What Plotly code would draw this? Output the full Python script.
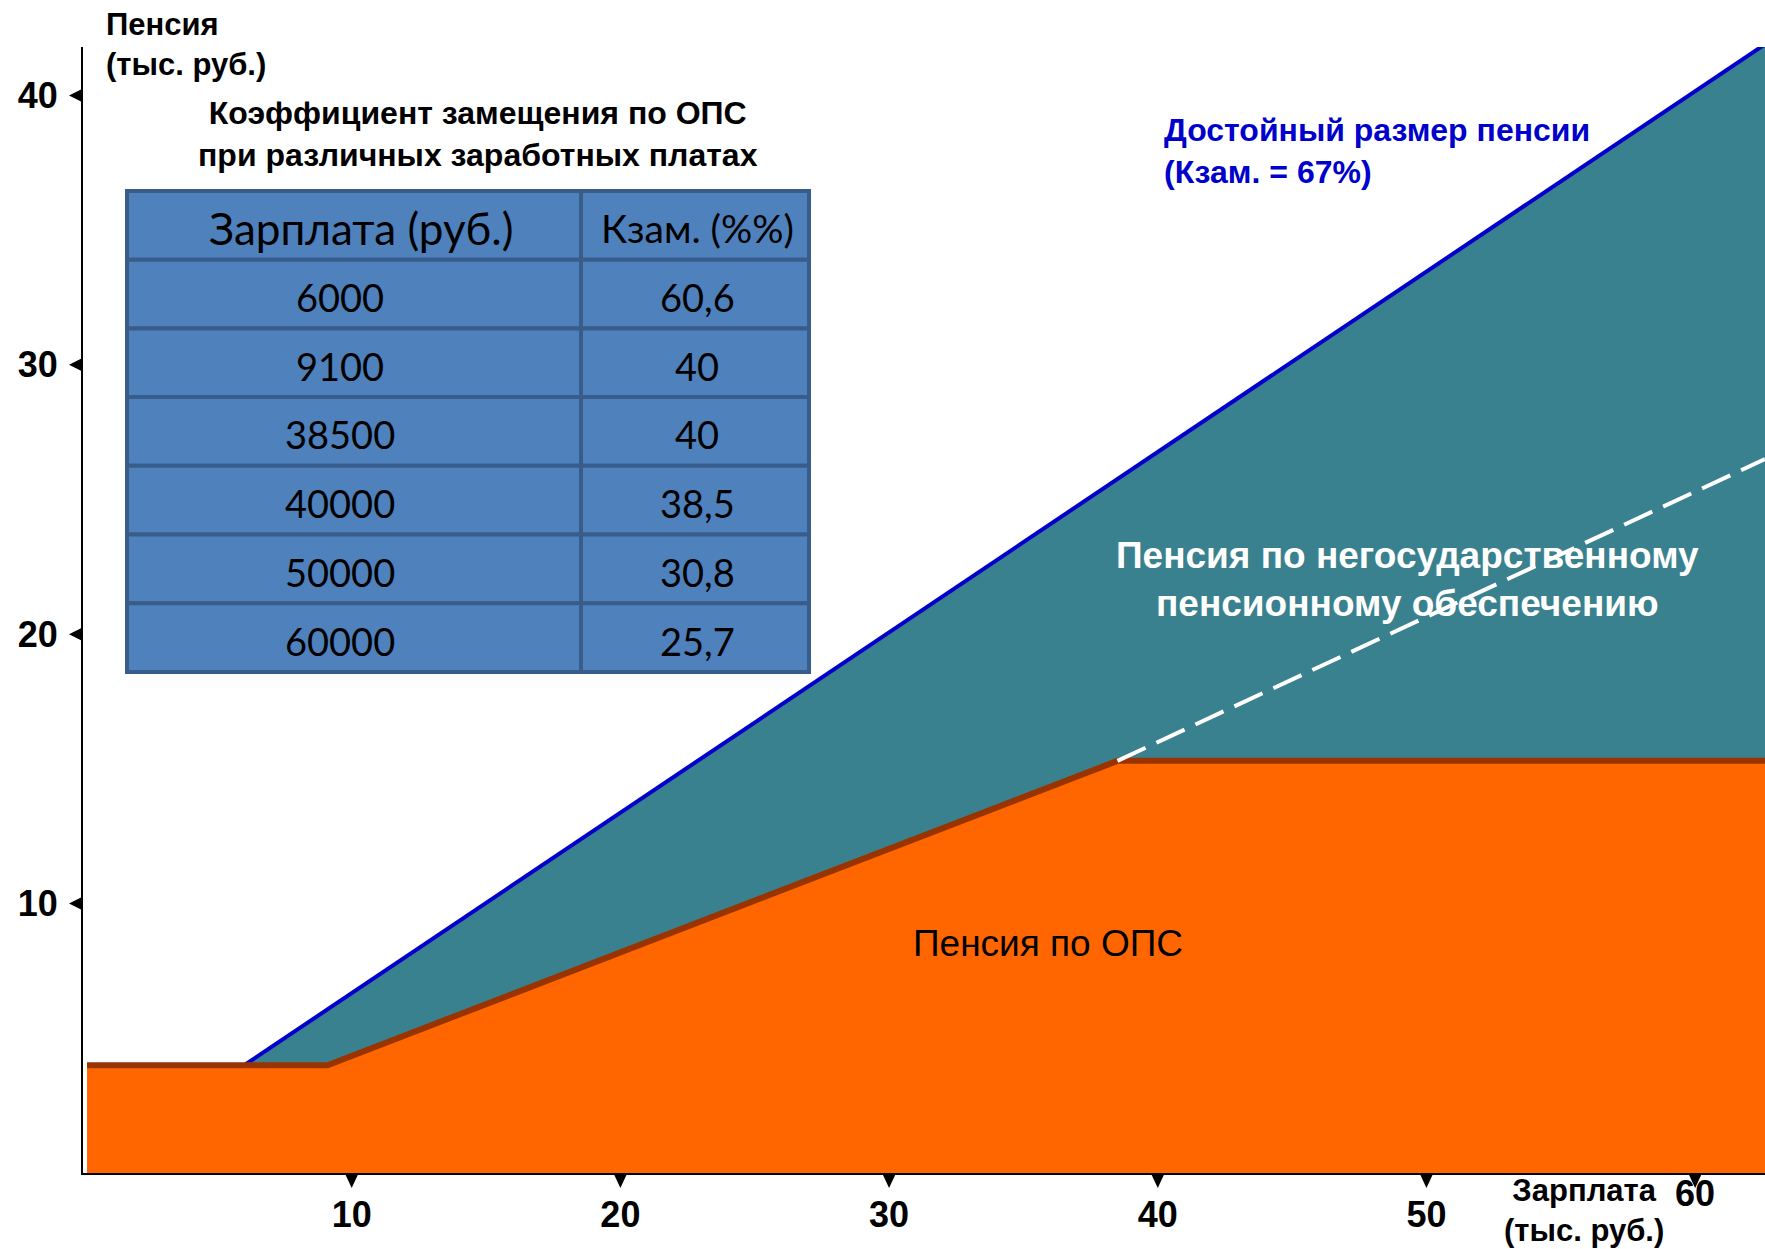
import plotly.graph_objects as go

# ---------------- data (thousand rubles) ----------------
ops_x = [0.15, 9.1, 38.5, 62.6]          # pension under mandatory insurance (ОПС)
ops_y = [4.0, 4.0, 15.3, 15.3]
teal_base_x = [6.0, 9.1, 38.5, 62.6]     # lower edge of non-state pension area
teal_base_y = [4.0, 4.0, 15.3, 15.3]
decent_x = [6.0, 62.6]                   # decent pension (Кзам. = 67%)
decent_y = [4.0, 41.9]
dash_x = [38.5, 62.6]                    # dashed continuation
dash_y = [15.3, 26.5]

x_ticks = [10, 20, 30, 40, 50]
x_tick_labels = ["10", "20", "30", "40", "50"]
x_last_tick = 60
y_ticks = [10, 20, 30, 40]
y_tick_labels = ["10", "20", "30", "40"]

table_header = ["Зарплата (руб.)", "Кзам. (%%)"]
table_salary = ["6000", "9100", "38500", "40000", "50000", "60000"]
table_ratio = ["60,6", "40", "40", "38,5", "30,8", "25,7"]

# ---------------- styles / layout ----------------
ORANGE = "#FF6600"
BROWN = "#993300"
TEAL = "#3A818F"
BLUE = "#0000CC"
TBL_FILL = "#4F81BD"
TBL_LINE = "#385D8A"
ARIAL = "Liberation Sans, Arial, sans-serif"
CALIBRI = "Lato, Carlito, Calibri, sans-serif"

W, H = 1765, 1249
ML, MR, MT, MB = 83, 0, 47, 76
PW, PH = W - ML - MR, H - MT - MB
X_MAX = 62.6
Y_MAX = 41.8


def xp(px):
    """page pixel x -> paper fraction"""
    return (px - ML) / PW


def yp(py):
    """page pixel y -> paper fraction"""
    return (H - MB - py) / PH


fig = go.Figure()

# teal area (between OPS curve and 67% line)
fig.add_trace(go.Scatter(x=teal_base_x, y=teal_base_y, mode="lines",
                         line=dict(width=0, color=TEAL), hoverinfo="skip"))
fig.add_trace(go.Scatter(x=decent_x, y=decent_y, mode="lines",
                         line=dict(color=BLUE, width=4), fill="tonexty",
                         fillcolor=TEAL, hoverinfo="skip"))
# orange area
fig.add_trace(go.Scatter(x=ops_x, y=ops_y, mode="lines",
                         line=dict(color=BROWN, width=6), fill="tozeroy",
                         fillcolor=ORANGE, hoverinfo="skip"))
# dashed line
fig.add_trace(go.Scatter(x=dash_x, y=dash_y, mode="lines",
                         line=dict(color="white", width=4, dash="31px,12px"),
                         hoverinfo="skip"))

shapes = []
# triangular tick marks on the axes
for t in x_ticks + [x_last_tick]:
    shapes.append(dict(type="path", xref="x", xsizemode="pixel", xanchor=t,
                       yref="paper", ysizemode="pixel", yanchor=0,
                       path="M-7,0 L7,0 L0,-15 Z", fillcolor="black",
                       line=dict(width=0), layer="above"))
for t in y_ticks:
    shapes.append(dict(type="path", xref="paper", xsizemode="pixel", xanchor=0,
                       yref="y", ysizemode="pixel", yanchor=t,
                       path="M0,-7 L0,7 L-14,0 Z", fillcolor="black",
                       line=dict(width=0), layer="above"))

annotations = []

# ---------------- table (drawn from the arrays) ----------------
TBL_TOP = 191
ROW_H = 68.7
COL_EDGES = [127, 581, 809]
HEADER_TEXT_X = [361, 697]
COL_TEXT_X = [340, 697]
HEADER_SIZES = [44, 39]
CELL_SIZE = 38
table_rows = [table_header] + [list(r) for r in zip(table_salary, table_ratio)]
for i, row in enumerate(table_rows):
    top = TBL_TOP + i * ROW_H
    text_x = HEADER_TEXT_X if i == 0 else COL_TEXT_X
    for j, val in enumerate(row):
        shapes.append(dict(type="rect", xref="paper", yref="paper",
                           x0=xp(COL_EDGES[j]), x1=xp(COL_EDGES[j + 1]),
                           y0=yp(top + ROW_H), y1=yp(top),
                           fillcolor=TBL_FILL, line=dict(color=TBL_LINE, width=4),
                           layer="above"))
        annotations.append(dict(text=val, xref="paper", yref="paper",
                                x=xp(text_x[j]), y=yp(top + ROW_H / 2 + 3),
                                xanchor="center", yanchor="middle", showarrow=False,
                                font=dict(family=CALIBRI, color="black",
                                          size=HEADER_SIZES[j] if i == 0 else CELL_SIZE)))

# ---------------- texts ----------------
texts = [
    dict(text="<b>Пенсия<br>(тыс. руб.)</b>", x=xp(104), y=yp(44), xanchor="left",
         align="left", font=dict(family=ARIAL, size=31, color="black")),
    dict(text="<b>Коэффициент замещения по ОПС<br>при различных заработных платах</b>",
         x=xp(478), y=yp(134), xanchor="center", align="center",
         font=dict(family=ARIAL, size=32, color="black")),
    dict(text="<b>Достойный размер пенсии<br>(Кзам. = 67%)</b>", x=xp(1162), y=yp(151),
         xanchor="left", align="left", font=dict(family=ARIAL, size=32, color=BLUE)),
    dict(text="<b>Пенсия по негосударственному<br>пенсионному обеспечению</b>",
         x=xp(1407), y=yp(579), xanchor="center", align="center",
         font=dict(family=ARIAL, size=37, color="white")),
    dict(text="Пенсия по ОПС", x=xp(1048), y=yp(943), xanchor="center",
         font=dict(family=ARIAL, size=37, color="black")),
    dict(text="<b>Зарплата<br>(тыс. руб.)</b>", x=xp(1584), y=yp(1210), xanchor="center",
         align="center", font=dict(family=ARIAL, size=31, color="black")),
]
for a in texts:
    a.update(xref="paper", yref="paper", yanchor="middle", showarrow=False)
    annotations.append(a)
annotations.append(dict(text="<b>%d</b>" % x_last_tick, xref="x", yref="paper",
                        x=x_last_tick, y=yp(1193), xanchor="center", yanchor="middle",
                        showarrow=False, font=dict(family=ARIAL, size=36, color="black")))

fig.update_layout(
    width=W, height=H,
    margin=dict(l=ML, r=MR, t=MT, b=MB, pad=0),
    paper_bgcolor="white", plot_bgcolor="white",
    showlegend=False,
    shapes=shapes,
    annotations=annotations,
    xaxis=dict(range=[0, X_MAX], showgrid=False, zeroline=False, showline=True,
               linecolor="black", linewidth=2, ticks="", tickmode="array",
               tickvals=x_ticks, ticktext=x_tick_labels, ticklabelstandoff=9,
               tickfont=dict(family=ARIAL, size=36, color="black", weight="bold")),
    yaxis=dict(range=[0, Y_MAX], showgrid=False, zeroline=False, showline=True,
               linecolor="black", linewidth=2, ticks="", tickmode="array",
               tickvals=y_ticks, ticktext=y_tick_labels, ticklabelstandoff=16,
               tickfont=dict(family=ARIAL, size=36, color="black", weight="bold")),
)

fig.write_html("out.html", config={"displayModeBar": False},
               post_script="document.body.style.margin='0';document.body.style.overflow='hidden';")
